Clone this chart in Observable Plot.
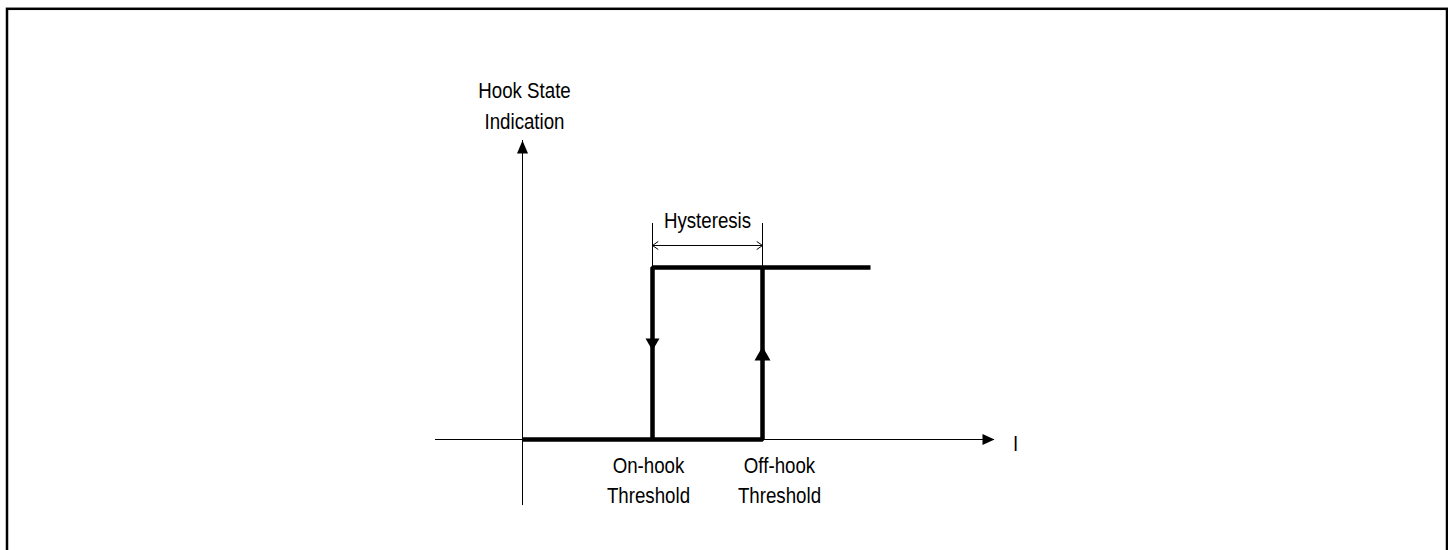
<!DOCTYPE html>
<html>
<head>
<meta charset="utf-8">
<script src="https://cdn.jsdelivr.net/npm/d3@7"></script>
<script src="https://cdn.jsdelivr.net/npm/@observablehq/plot@0.6"></script>
<style>
  html, body { margin: 0; padding: 0; background: #fff; overflow: hidden; }
</style>
</head>
<body>
<div id="chart"></div>
<script>
// ---- data (x: current I in arbitrary units, y: hook state 0 = on-hook, 1 = off-hook)
const onHookThreshold = 13;
const offHookThreshold = 24;
const currentMax = 34.8;           // end of the upper (off-hook) branch
const axisX = [-8.7, 47.2];        // extent of the I axis
const axisY = [-0.384, 1.738];     // extent of the state axis
const lowerBranch = [[0, 0], [offHookThreshold, 0], [offHookThreshold, 1]];
const upperBranch = [[currentMax, 1], [onHookThreshold, 1], [onHookThreshold, 0]];
const hysteresisY = 1.128;
const hysteresisTickTop = 1.256;
const yTitle = "Hook State\nIndication";
const xTitle = "I";
const hysteresisLabel = "Hysteresis";
const thresholdLabels = ["On-hook\nThreshold", "Off-hook\nThreshold"];

// ---- helpers
const head = (L, W) => ({
  draw(ctx) { ctx.moveTo(0, 0); ctx.lineTo(W / 2, L); ctx.lineTo(-W / 2, L); ctx.closePath(); }
});
const font = "'Liberation Sans Narrow', 'Arial Narrow', 'Liberation Sans', Arial, sans-serif";

const branches = [
  ...lowerBranch.map(([x, y]) => ({b: "lower", x, y})),
  ...upperBranch.map(([x, y]) => ({b: "upper", x, y}))
];
const mid = (onHookThreshold + offHookThreshold) / 2;

const chart = Plot.plot({
  width: 1448,
  height: 550,
  margin: 0,
  x: {domain: [-52.2, 92.6], axis: null},
  y: {domain: [-0.6453, 2.5523], axis: null},
  style: {fontFamily: font, background: "#fff", color: "#000"},
  marks: [
    Plot.frame({stroke: "#000", strokeWidth: 2.5, insetLeft: 6.5, insetTop: 8.3, insetRight: 1.5, insetBottom: -20}),
    // axes
    Plot.ruleY([0], {x1: axisX[0], x2: axisX[1], stroke: "#000", strokeWidth: 1}),
    Plot.ruleX([0], {y1: axisY[0], y2: axisY[1], stroke: "#000", strokeWidth: 1}),
    Plot.dot([{x: axisX[1], y: 0}], {x: "x", y: "y", symbol: head(12, 11), rotate: 90, fill: "#000", stroke: null}),
    Plot.dot([{x: 0, y: axisY[1]}], {x: "x", y: "y", symbol: head(13, 11), rotate: 0, fill: "#000", stroke: null}),
    // hysteresis loop
    Plot.line(branches, {x: "x", y: "y", z: "b", stroke: "#000", strokeWidth: 4.5, strokeLinejoin: "miter", strokeLinecap: "butt", curve: "linear"}),
    Plot.dot([{x: onHookThreshold, y: 0.517}], {x: "x", y: "y", symbol: head(12, 14), rotate: 180, fill: "#000", stroke: null}),
    Plot.dot([{x: offHookThreshold, y: 0.541}], {x: "x", y: "y", symbol: head(14, 16), rotate: 0, fill: "#000", stroke: null}),
    // hysteresis dimension
    Plot.ruleX([onHookThreshold, offHookThreshold], {y1: 1, y2: hysteresisTickTop, stroke: "#000", strokeWidth: 1}),
    Plot.arrow([onHookThreshold, offHookThreshold], {x1: () => mid, x2: d => d, y1: hysteresisY, y2: hysteresisY, stroke: "#000", strokeWidth: 1, headLength: 10, headAngle: 70, inset: 0}),
    Plot.text([hysteresisLabel], {x: mid, y: 1.227, text: d => d, fontSize: 22, lineAnchor: "bottom", fill: "#000"}),
    // labels
    Plot.text([yTitle], {x: 0.2, y: 1.808, text: d => d, fontSize: 22, lineAnchor: "bottom", lineHeight: 1.4, fill: "#000"}),
    Plot.text([xTitle], {x: 49.3, y: -0.064, text: d => d, fontSize: 22, lineAnchor: "bottom", fill: "#000"}),
    Plot.text(thresholdLabels, {x: (d, i) => [12.6, 25.7][i], y: -0.372, text: d => d, fontSize: 22, lineAnchor: "bottom", lineHeight: 1.37, fill: "#000"})
  ]
});
// condensed lettering (the reference uses a narrow sans face)
chart.querySelectorAll("text").forEach(t => {
  const tr = t.getAttribute("transform") || "";
  t.setAttribute("transform", (tr + " scale(0.85,1)").trim());
});
document.getElementById("chart").appendChild(chart);
</script>
</body>
</html>
